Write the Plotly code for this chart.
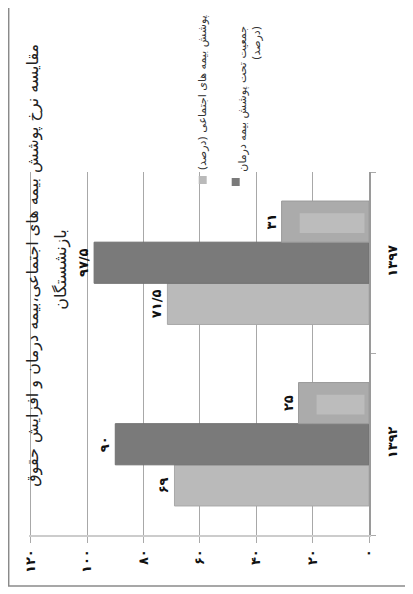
import plotly.graph_objects as go

# ---- data ----
categories = ["۱۳۹۲", "۱۳۹۷"]
social_insurance = [69, 71.5]          # پوشش بیمه های اجتماعی (درصد)
health_insurance = [90, 97.5]          # جمعیت تحت پوشش بیمه درمان (درصد)
pension_increase = [25, 31]            # افزایش حقوق بازنشستگان
social_labels = ["۶۹", "۷۱/۵"]
health_labels = ["۹۰", "۹۷/۵"]
pension_labels = ["۲۵", "۳۱"]
tick_values = [0, 20, 40, 60, 80, 100, 120]
tick_labels = ["۰", "۲۰", "۴۰", "۶۰", "۸۰", "۱۰۰", "۱۲۰"]

title_line1 = "مقایسه نرخ پوشش بیمه های اجتماعی،بیمه درمان و افزایش حقوق"
title_line2 = "بازنشستگان"
legend1 = "پوشش بیمه های اجتماعی (درصد)"
legend2 = "جمعیت تحت پوشش بیمه درمان<br>(درصد)"

# ---- layout geometry (pixels, page coordinates; page body has an 8px margin) ----
OFF = 8
W, H = 413 - OFF, 594 - OFF
X0, X120 = 369.3, 31          # page x of value 0 and 120
YT, YB = 172, 535             # page y of plot top / bottom
VMAX = 120.6                  # slight pad so the 120 gridline is drawn
unit = (X0 - X120) / 120.0
L = X120 - (VMAX - 120) * unit - OFF
R = W - (X0 - OFF)
T = YT - OFF
B = H - (YB - OFF)
PW, PH = W - L - R, H - T - B


def px(x):
    return (x - OFF - L) / PW


def py(y):
    return (H - B - (y - OFF)) / PH


FONT = "DejaVu Sans"
LIGHT = "#bababa"
DARK = "#7a7a7a"
BEV_OUT = "#ababab"
BEV_IN = "#bcbcbc"

bw = 0.68 / 3
o0 = -0.34

fig = go.Figure()
fig.add_trace(go.Bar(
    y=categories, x=social_insurance, orientation="h", name=legend1,
    marker=dict(color=LIGHT, line=dict(color="#a8a8a8", width=1)),
    offset=o0, width=bw,
    text=social_labels, textposition="outside", textangle=-90,
    textfont=dict(family=FONT, size=13, color="#111", weight="bold"),
    cliponaxis=False, constraintext="none",
))
fig.add_trace(go.Bar(
    y=categories, x=health_insurance, orientation="h", name="جمعیت تحت پوشش بیمه درمان (درصد)",
    marker=dict(color=DARK, line=dict(color="#707070", width=1)),
    offset=o0 + bw, width=bw,
    text=health_labels, textposition="outside", textangle=-90,
    textfont=dict(family=FONT, size=13, color="#111", weight="bold"),
    cliponaxis=False, constraintext="none",
))
fig.add_trace(go.Bar(
    y=categories, x=pension_increase, orientation="h", name="افزایش حقوق بازنشستگان",
    marker=dict(color=BEV_OUT, line=dict(color="#9a9a9a", width=1)),
    offset=o0 + 2 * bw, width=bw,
    text=pension_labels, textposition="outside", textangle=-90,
    textfont=dict(family=FONT, size=13, color="#111", weight="bold"),
    cliponaxis=False, constraintext="none",
))
# inner face of the bevelled bars
fig.add_trace(go.Bar(
    y=categories, x=[v - 8.0 for v in pension_increase], base=[1.6] * len(pension_increase),
    orientation="h", marker=dict(color=BEV_IN, line=dict(width=0)),
    offset=o0 + 2 * bw + 0.05, width=0.11, hoverinfo="skip",
))

fig.update_layout(
    width=W, height=H,
    margin=dict(l=L, r=R, t=T, b=B),
    barmode="overlay",
    showlegend=False,
    paper_bgcolor="white", plot_bgcolor="white",
    font=dict(family=FONT, color="#111"),
)
fig.update_xaxes(
    range=[VMAX, 0], tickvals=tick_values, ticktext=tick_labels,
    tickangle=-90, tickfont=dict(family=FONT, size=13, color="#111", weight="bold"),
    showgrid=True, gridcolor="#a8a8a8", gridwidth=1, zeroline=False,
    showline=True, linecolor="#cccccc", linewidth=2,
    ticks="outside", ticklen=6, tickcolor="#aaaaaa", ticklabelstandoff=1,
)
fig.update_yaxes(
    type="category", categoryorder="array", categoryarray=categories,
    side="right", tickangle=-90, tickson="boundaries",
    tickfont=dict(family=FONT, size=13, color="#111", weight="bold"),
    showgrid=False, zeroline=False,
    showline=True, linecolor="#9a9a9a", linewidth=1.5,
    ticks="outside", ticklen=5, tickcolor="#aaaaaa", ticklabelstandoff=11,
)

ann = []
ann.append(dict(text=title_line1, x=px(33), y=py(265), xref="paper", yref="paper",
                textangle=-90, showarrow=False, xanchor="center", yanchor="middle",
                font=dict(family=FONT, size=16, color="#222")))
ann.append(dict(text=title_line2, x=px(61), y=py(270), xref="paper", yref="paper",
                textangle=-90, showarrow=False, xanchor="center", yanchor="middle",
                font=dict(family=FONT, size=16, color="#222")))
ann.append(dict(text=legend1, x=px(203), y=py(172), xref="paper", yref="paper",
                textangle=-90, showarrow=False, xanchor="center", yanchor="bottom",
                font=dict(family=FONT, size=11, color="#333")))
ann.append(dict(text=legend2, x=px(250), y=py(174), xref="paper", yref="paper",
                textangle=-90, showarrow=False, xanchor="center", yanchor="bottom", align="right",
                font=dict(family=FONT, size=11, color="#333")))
fig.update_layout(annotations=ann)

shapes = [
    dict(type="rect", xref="paper", yref="paper", x0=px(199), x1=px(207), y0=py(184), y1=py(176),
         fillcolor=LIGHT, line=dict(width=0)),
    dict(type="rect", xref="paper", yref="paper", x0=px(232), x1=px(240), y0=py(186), y1=py(178),
         fillcolor=DARK, line=dict(width=0)),
    dict(type="rect", xref="paper", yref="paper", x0=px(9), x1=px(440), y0=py(586), y1=py(-20),
         fillcolor="rgba(0,0,0,0)", line=dict(color="#8a8a8a", width=1.5), layer="below"),
]
fig.update_layout(shapes=shapes)

fig.write_html("out.html")
